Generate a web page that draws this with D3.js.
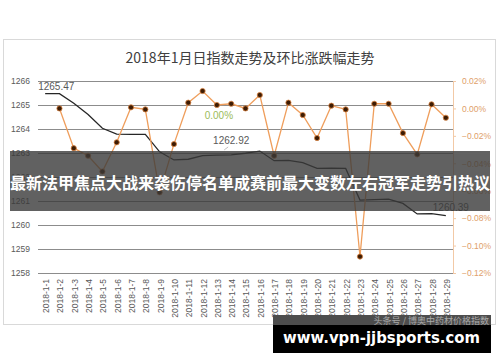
<!DOCTYPE html>
<html><head><meta charset="utf-8">
<script src="https://cdn.jsdelivr.net/npm/d3@7/dist/d3.min.js"></script>
<style>body{margin:0;background:#fff;}svg{display:block;}</style>
</head><body>
<svg id="c" width="500" height="362"></svg>
<script>
const dates = d3.range(1, 30).map(d => "2018-1-" + d);
const indexValues = [1265.47, 1265.47, 1265.07, 1264.60, 1264.03, 1263.79, 1263.78, 1263.78, 1263.05, 1262.71,
  1262.74, 1262.89, 1262.91, 1262.92, 1262.99, 1263.08, 1262.68, 1262.69, 1262.60, 1262.36,
  1262.37, 1262.36, 1261.04, 1261.06, 1261.08, 1260.90, 1260.46, 1260.47, 1260.39];
const changePct = [null, 0.000, -0.029, -0.0345, -0.046, -0.0247, 0.0008, -0.0007, -0.0612, -0.026,
  0.0042, 0.0127, 0.0025, 0.0034, 0.000, 0.0098, -0.0345, 0.0042, -0.0048, -0.0216,
  0.002, -0.0007, -0.108, 0.0034, 0.0034, -0.018, -0.0335, 0.003, -0.0068];
const leftTicks = [1258, 1259, 1260, 1261, 1262, 1263, 1264, 1265, 1266];
const rightTicks = [0.02, 0.00, -0.02, -0.04, -0.06, -0.08, -0.10, -0.12];
const indexLabels = [0, 13, 28];
const changeLabels = [12];
const title = "2018年1月日指数走势及环比涨跌幅走势";
const bannerText = "最新法甲焦点大战来袭伤停名单成赛前最大变数左右冠军走势引热议";
const siteText = "www.vpn-jjbsports.com";
const watermark = "头条号 / 博奥中药材价格指数";

const svg = d3.select("#c");
const L = 38, R = 453, T = 81, B = 273;
const x = d3.scaleBand().domain(dates).range([L, R]);
const cx = d => x(d) + x.bandwidth() / 2;
const yL = d3.scaleLinear().domain([1258, 1266]).range([B, T]);
const yR = d3.scaleLinear().domain([-0.12, 0.02]).range([B, T]);

// frame
svg.append("rect").attr("x", 3.5).attr("y", 39.5).attr("width", 492).attr("height", 285)
  .attr("fill", "#fff").attr("stroke", "#d9d9d9");

svg.append("text").attr("x", 250).attr("y", 63).attr("text-anchor", "middle")
  .attr("font-family", "Noto Sans CJK SC").attr("font-size", 14).attr("fill", "#404040").text(title);

// left axis (gridlines)
const gl = svg.append("g").attr("transform", `translate(${L},0)`)
  .call(d3.axisLeft(yL).tickValues(leftTicks).tickSize(-(R - L)).tickPadding(8).tickFormat(d3.format("d")));
gl.select(".domain").remove();
gl.selectAll(".tick line").attr("stroke", "#8c8c8c");
gl.selectAll(".tick text").attr("font-family", "Liberation Sans").attr("font-size", 8.5).attr("fill", "#595959");

// right axis
const gr = svg.append("g").attr("transform", `translate(${R},0)`)
  .call(d3.axisRight(yR).tickValues(rightTicks).tickSize(3).tickPadding(6).tickFormat(d => d3.format(".2f")(d) + "%"));
gr.select(".domain").attr("stroke", "#f2c9a6");
gr.selectAll(".tick line").attr("stroke", "#f2c9a6");
gr.selectAll(".tick text").attr("font-family", "Liberation Sans").attr("font-size", 8.5).attr("fill", "#e0a06a");

// x labels
const gx = svg.append("g").attr("transform", `translate(0,${B})`)
  .call(d3.axisBottom(x).tickSize(0).tickPadding(0));
gx.select(".domain").remove();
gx.selectAll(".tick text").attr("font-family", "Liberation Sans").attr("font-size", 8.5).attr("fill", "#595959")
  .attr("text-anchor", "end").attr("transform", "translate(1,6) rotate(-90)").attr("dy", "0.35em").attr("y", 0).attr("x", 0);

// index line
svg.append("path").datum(indexValues)
  .attr("d", d3.line().x((d, i) => cx(dates[i])).y(d => yL(d)))
  .attr("fill", "none").attr("stroke", "#262626").attr("stroke-width", 1.3);

// change line
const chg = changePct.map((v, i) => ({ d: dates[i], v })).filter(p => p.v !== null);
svg.append("path").datum(chg)
  .attr("d", d3.line().x(p => cx(p.d)).y(p => yR(p.v)))
  .attr("fill", "none").attr("stroke", "#ef9e5c").attr("stroke-width", 1.3);
svg.selectAll("circle.m").data(chg).join("circle").attr("class", "m")
  .attr("cx", p => cx(p.d)).attr("cy", p => yR(p.v)).attr("r", 2.6)
  .attr("fill", "#3d1c04").attr("stroke", "#d9823f").attr("stroke-width", 0.8);

// data labels
const lblFont = (s) => s.attr("font-family", "Liberation Sans").attr("font-size", 10).attr("fill", "#595959");
const offs = { 0: [-7, -4, "start"], 13: [0, -11, "middle"], 28: [5, -5, "middle"] };
indexLabels.forEach(i => {
  const o = offs[i];
  svg.append("text").attr("x", cx(dates[i]) + o[0]).attr("y", yL(indexValues[i]) + o[1])
    .attr("text-anchor", o[2]).call(lblFont).text(d3.format(".2f")(indexValues[i]));
});
svg.append("line").attr("x1", cx(dates[13]) - 3).attr("y1", yL(indexValues[13]) - 8)
  .attr("x2", cx(dates[13]) - 7).attr("y2", yL(indexValues[13]) - 5).attr("stroke", "#bfbfbf");
changeLabels.forEach(i => {
  svg.append("text").attr("x", cx(dates[i]) + 2).attr("y", yR(changePct[i]) + 14)
    .attr("text-anchor", "middle").attr("font-family", "Liberation Sans").attr("font-size", 10)
    .attr("fill", "#9bbb59").text(d3.format(".2f")(changePct[i]) + "%");
});

// overlay banner
svg.append("rect").attr("x", 10).attr("y", 151).attr("width", 480).attr("height", 60)
  .attr("fill", "#3a3a3a").attr("opacity", 0.8);
svg.append("text").attr("x", 250).attr("y", 189).attr("text-anchor", "middle")
  .attr("font-family", "Noto Sans CJK SC").attr("font-weight", "bold").attr("font-size", 16)
  .attr("fill", "#fff").attr("textLength", 480).attr("lengthAdjust", "spacingAndGlyphs").text(bannerText);

// bottom site banner
svg.append("rect").attr("x", 273).attr("y", 315).attr("width", 218).attr("height", 38).attr("fill", "#000");
svg.append("rect").attr("x", 273).attr("y", 315).attr("width", 218).attr("height", 10).attr("fill", "#fff").attr("opacity", 0.3);
svg.append("text").attr("x", 489).attr("y", 323.5).attr("text-anchor", "end")
  .attr("font-family", "Noto Sans CJK SC").attr("font-size", 9).attr("fill", "#d0d0d0").attr("opacity", 0.7).text(watermark);
svg.append("text").attr("x", 283).attr("y", 343).attr("font-family", "DejaVu Sans").attr("font-weight", "bold")
  .attr("font-size", 15).attr("fill", "#fff").attr("textLength", 197).attr("lengthAdjust", "spacingAndGlyphs").text(siteText);
</script>
</body></html>
